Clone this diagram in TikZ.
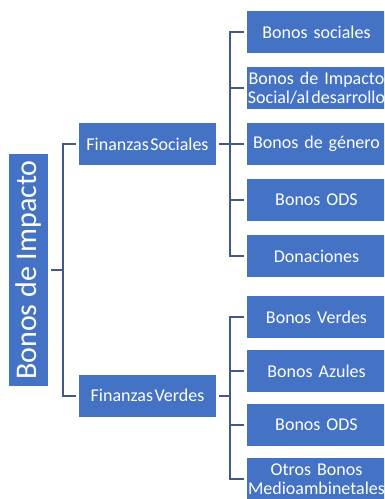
\documentclass[tikz,border=0pt]{standalone}
\usepackage{fontspec}
\setmainfont{Carlito}
\usepackage{tikz}
\usetikzlibrary{positioning}
\definecolor{boxblue}{RGB}{68,114,196}
\definecolor{lineblue}{RGB}{66,88,140}
\tikzstyle{rootbox} = [rectangle,
					  fill=boxblue,
					  text=white,
					  minimum width=39pt,
					  minimum height=232pt,
					  inner sep=0pt,
					  font=\fontsize{30}{32}\selectfont,
					 ]
\tikzstyle{catbox} = [rectangle,
					 fill=boxblue,
					 text=white,
					 minimum width=137pt,
					 minimum height=42pt,
					 inner sep=0pt,
					 font=\fontsize{18}{20}\selectfont,
					]
\tikzstyle{bondbox} = [rectangle,
					  fill=boxblue,
					  text=white,
					  minimum width=139pt,
					  minimum height=42pt,
					  text width=139pt,
					  inner sep=0pt,
					  align=center,
					  font=\fontsize{18}{19.5}\selectfont,
					 ]
\tikzstyle{link} = [draw=lineblue, line width=2pt, shorten <=3pt, shorten >=3pt]
\tikzstyle{stub} = [draw=lineblue, line width=2pt, shorten <=3pt]

\begin{document}
\begin{tikzpicture}[x=1pt, y=1pt, node distance=56pt]

\clip (0,0) rectangle (384,-499);

\node (root) [rootbox] at (28.5,-270) {\rotatebox{90}{Bonos de Impacto}};
\node (fs) [catbox, right of =root, xshift=63pt, yshift=126pt] {Finanzas\kern1.5pt Sociales};
\node (fv) [catbox, below of =fs, yshift=-195.5pt] {Finanzas\kern1.5pt Verdes};

\node (s3) [bondbox, right of =fs, xshift=113pt] {Bonos de género};
\node (s2) [bondbox, above of =s3] {Bonos de Impacto\\Social/al\kern2pt desarrollo};
\node (s1) [bondbox, above of =s2] {Bonos sociales};
\node (s4) [bondbox, below of =s3] {Bonos ODS};
\node (s5) [bondbox, below of =s4] {Donaciones};

\node (g1) [bondbox, right of =fv, xshift=113pt, yshift=78.5pt] {Bonos Verdes};
\node (g2) [bondbox, below of =g1, yshift=2pt] {Bonos Azules};
\node (g3) [bondbox, below of =g2, yshift=2pt] {Bonos ODS};
\node (g4) [bondbox, below of =g3, yshift=2pt] {Otros Bonos\\Medioambinetales};

\coordinate (rootbar) at ([xshift=15pt]root.east);
\coordinate (socbar) at ([xshift=14pt]fs.east);
\coordinate (verbar) at ([xshift=14pt]fv.east);

\draw [stub] (root.east) -- (rootbar);
\draw [link] (fs.west) -| (rootbar) |- (fv.west);

\draw [stub] (fs.east) -- (socbar);
\draw [link] (s1.west) -| (socbar) |- (s5.west);
\draw [stub] (s2.west) -- (s2.west -| socbar);
\draw [stub] (s3.west) -- (s3.west -| socbar);
\draw [stub] (s4.west) -- (s4.west -| socbar);

\draw [stub] (fv.east) -- (verbar);
\draw [link] (g1.west) -| (verbar) |- (g4.west);
\draw [stub] (g2.west) -- (g2.west -| verbar);
\draw [stub] (g3.west) -- (g3.west -| verbar);

\end{tikzpicture}
\end{document}
